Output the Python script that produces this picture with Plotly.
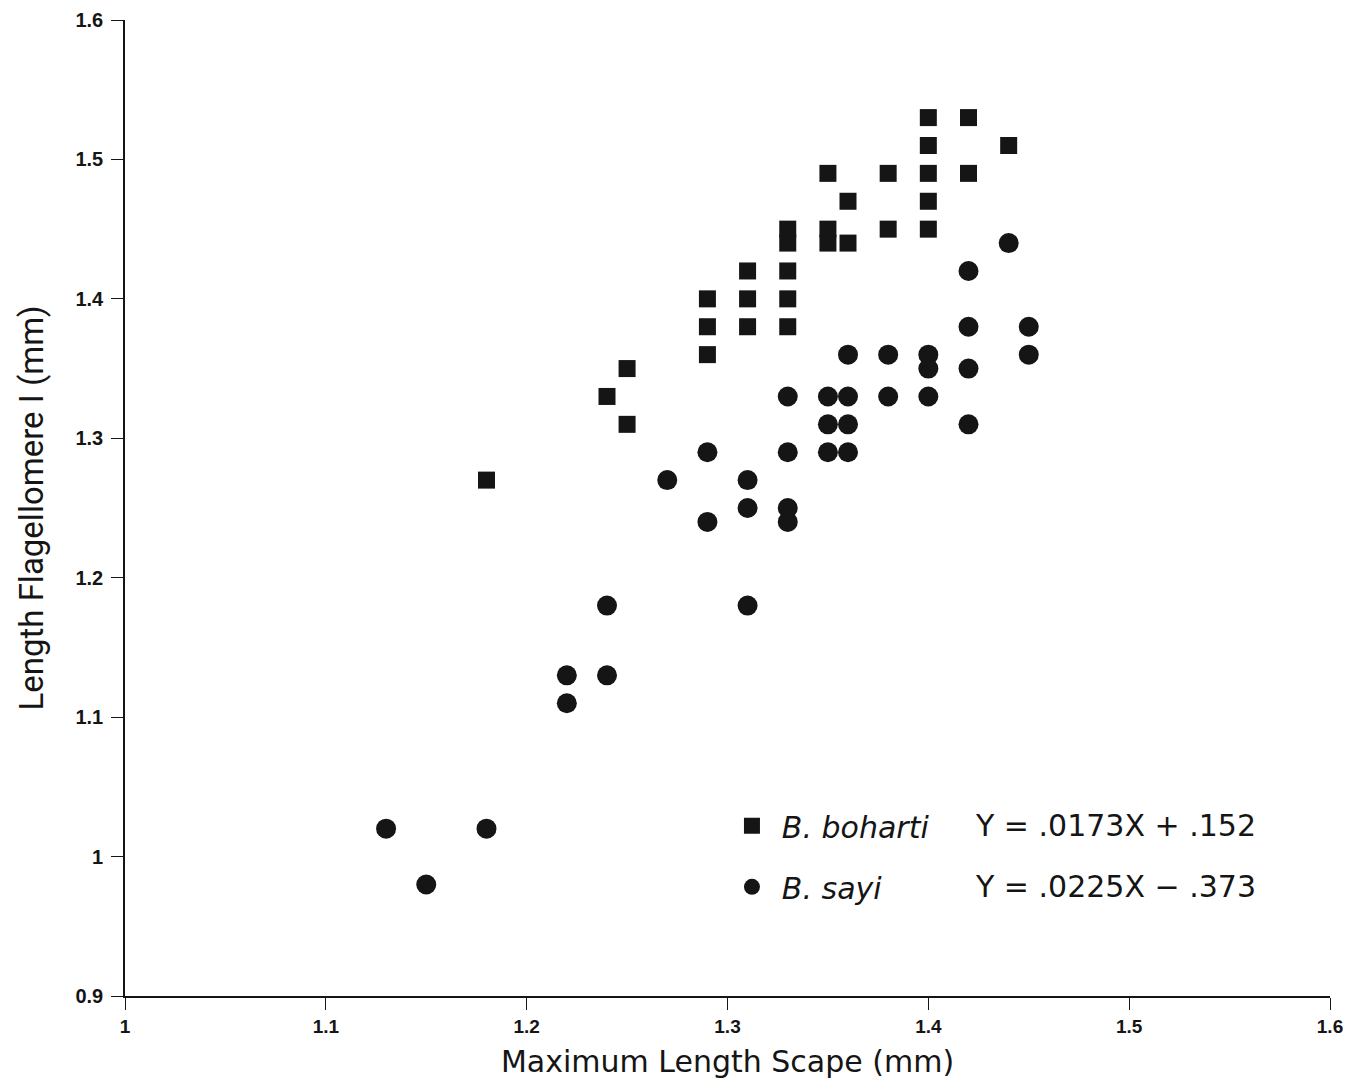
import plotly.graph_objects as go

# B. boharti (squares)
boharti_x = [1.18, 1.24, 1.25, 1.25,
             1.29, 1.29, 1.29,
             1.31, 1.31, 1.31,
             1.33, 1.33, 1.33, 1.33, 1.33,
             1.35, 1.35, 1.35,
             1.36, 1.36,
             1.38, 1.38,
             1.40, 1.40, 1.40, 1.40, 1.40,
             1.42, 1.42,
             1.44]
boharti_y = [1.27, 1.33, 1.35, 1.31,
             1.40, 1.38, 1.36,
             1.42, 1.40, 1.38,
             1.45, 1.44, 1.42, 1.40, 1.38,
             1.49, 1.45, 1.44,
             1.47, 1.44,
             1.49, 1.45,
             1.53, 1.51, 1.49, 1.47, 1.45,
             1.53, 1.49,
             1.51]

# B. sayi (circles)
sayi_x = [1.13, 1.15, 1.18,
          1.22, 1.22,
          1.24, 1.24,
          1.27,
          1.29, 1.29,
          1.31, 1.31, 1.31,
          1.33, 1.33, 1.33, 1.33,
          1.35, 1.35, 1.35,
          1.36, 1.36, 1.36, 1.36,
          1.38, 1.38,
          1.40, 1.40, 1.40,
          1.42, 1.42, 1.42, 1.42,
          1.44,
          1.45, 1.45]
sayi_y = [1.02, 0.98, 1.02,
          1.13, 1.11,
          1.13, 1.18,
          1.27,
          1.29, 1.24,
          1.27, 1.25, 1.18,
          1.33, 1.29, 1.25, 1.24,
          1.33, 1.31, 1.29,
          1.36, 1.33, 1.31, 1.29,
          1.36, 1.33,
          1.36, 1.35, 1.33,
          1.42, 1.38, 1.35, 1.31,
          1.44,
          1.38, 1.36]

series_names = ["<i>B. boharti</i>", "<i>B. sayi</i>"]
equations = ["Y = .0173X + .152", "Y = .0225X \u2212 .373"]

x_ticks = [1.0, 1.1, 1.2, 1.3, 1.4, 1.5, 1.6]
x_ticktext = ["1", "1.1", "1.2", "1.3", "1.4", "1.5", "1.6"]
y_ticks = [0.9, 1.0, 1.1, 1.2, 1.3, 1.4, 1.5, 1.6]
y_ticktext = ["0.9", "1", "1.1", "1.2", "1.3", "1.4", "1.5", "1.6"]

INK = "#151515"
WIDE_FONT = "DejaVu Sans, sans-serif"
TICK_FONT = "Liberation Sans, Arial, sans-serif"

fig = go.Figure()
fig.add_trace(go.Scatter(
    x=boharti_x, y=boharti_y, mode="markers", name="\u2004" + series_names[0],
    legendgroup="a",
    marker=dict(symbol="square", size=17, color=INK, line=dict(width=0)),
))
fig.add_trace(go.Scatter(
    x=sayi_x, y=sayi_y, mode="markers", name="\u2004" + series_names[1],
    legendgroup="b",
    marker=dict(symbol="circle", size=20, color=INK, line=dict(width=0)),
))

# equation annotations aligned in a column next to the legend
eq_y = [0.1742, 0.1127]
for eq, yy in zip(equations, eq_y):
    fig.add_annotation(
        x=0.7035, y=yy, xref="paper", yref="paper", text=eq, showarrow=False,
        xanchor="left", yanchor="middle",
        font=dict(family=WIDE_FONT, size=30, color=INK),
    )

axis_common = dict(
    showline=True, linecolor=INK, linewidth=1.6, ticks="outside",
    tickcolor=INK, tickwidth=1.4, ticklen=12, showgrid=False, zeroline=False,
    automargin=False,
)

fig.update_layout(
    width=1351, height=1081,
    margin=dict(l=117, r=29, t=12, b=93),
    paper_bgcolor="white", plot_bgcolor="white",
    showlegend=True,
    legend=dict(
        x=0.5037, y=0.201, xanchor="left", yanchor="top",
        bgcolor="rgba(0,0,0,0)", borderwidth=0,
        traceorder="grouped", tracegroupgap=19,
        font=dict(family=WIDE_FONT, size=30, color=INK),
        itemsizing="trace",
    ),
    xaxis=dict(
        range=[1.0, 1.6], tickvals=x_ticks, ticktext=x_ticktext,
        tickfont=dict(family=TICK_FONT, size=19, color=INK, weight="bold"),
        title=dict(text="Maximum Length Scape (mm)", standoff=15,
                   font=dict(family=WIDE_FONT, size=30, color=INK)),
        **axis_common,
    ),
    yaxis=dict(
        range=[0.9, 1.6], tickvals=y_ticks, ticktext=y_ticktext,
        tickfont=dict(family=TICK_FONT, size=20, color=INK, weight="bold"),
        ticklabelstandoff=4,
        title=dict(text="Length Flagellomere I (mm)", standoff=22,
                   font=dict(family="Roboto, sans-serif", size=33, color=INK)),
        **axis_common,
    ),
)

fig.write_html("out.html")
